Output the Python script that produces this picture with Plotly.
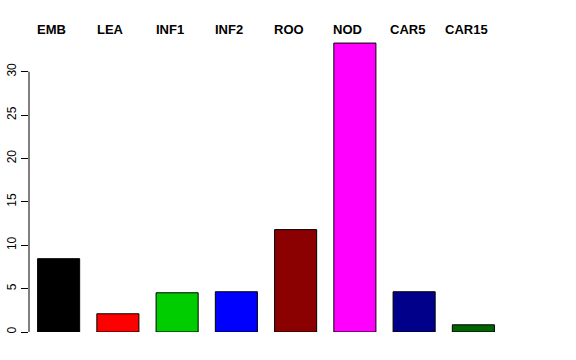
import plotly.graph_objects as go

categories = ["EMB", "LEA", "INF1", "INF2", "ROO", "NOD", "CAR5", "CAR15"]
values = [8.45, 2.1, 4.52, 4.64, 11.8, 33.3, 4.64, 0.83]
colors = ["#000000", "#FF0000", "#00CD00", "#0000FF", "#8B0000", "#FF00FF", "#00008B", "#006400"]
y_ticks = [0, 5, 10, 15, 20, 25, 30]

fig = go.Figure()
fig.add_trace(go.Bar(
    x=categories, y=values,
    marker=dict(color=colors, line=dict(color="#000000", width=1)),
    showlegend=False,
))

for c in categories:
    fig.add_annotation(x=c, y=1, xref="x", yref="paper", text="<b>%s</b>" % c,
                       showarrow=False, yanchor="middle", yshift=8, xshift=-7,
                       font=dict(family="Liberation Sans, Arial", size=13, color="#000000"))

fig.add_shape(type="line", xref="paper", yref="y", x0=0, x1=0, y0=0, y1=30,
              line=dict(color="#000000", width=1))

fig.update_layout(
    width=576, height=360,
    margin=dict(l=29, r=73, t=37, b=28, autoexpand=False),
    plot_bgcolor="white", paper_bgcolor="white",
    bargap=0.29,
    font=dict(family="Liberation Sans, Arial", size=12, color="#000000"),
    xaxis=dict(range=[-0.5, len(categories) - 0.5], showticklabels=False, ticks="",
               showgrid=False, zeroline=False, showline=False, fixedrange=True,
               automargin=False),
    yaxis=dict(range=[0, 34], tickvals=y_ticks, ticktext=[str(v) for v in y_ticks],
               ticks="outside", ticklen=7, tickcolor="#000000", tickwidth=1,
               tickangle=-90, showgrid=False, zeroline=False, showline=False,
               ticklabelstandoff=0, automargin=False),
)

fig.write_html("out.html")
